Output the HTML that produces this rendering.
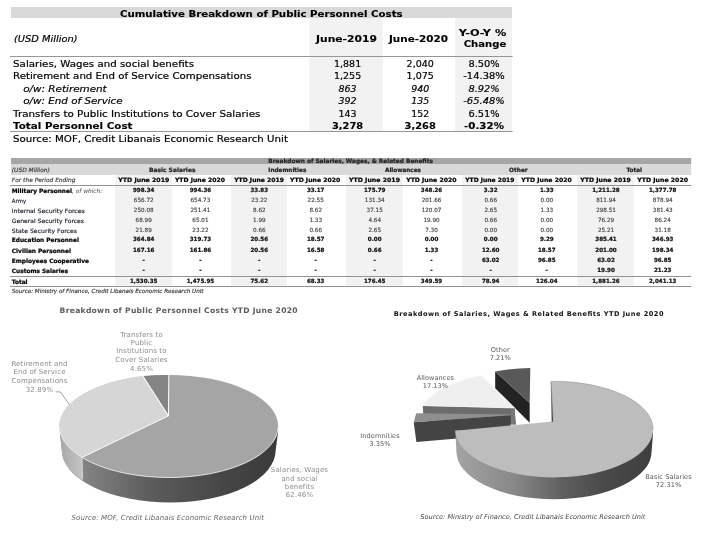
<!DOCTYPE html>
<html lang="en">
<head>
<meta charset="utf-8">
<title>Cumulative Breakdown of Public Personnel Costs</title>
<style>
html,body{margin:0;padding:0;background:#fff;}
body{width:710px;height:534px;overflow:hidden;}
svg{display:block;font-family:"DejaVu Sans", "Liberation Sans", sans-serif;}
text{white-space:pre;}
#t1 text{stroke:#000;stroke-width:0.2px;stroke-linejoin:round;}
#t1 text[font-weight=bold]{stroke-width:0.12px;}
</style>
</head>
<body>
<svg width="710" height="534" viewBox="0 0 710 534">
<rect width="710" height="534" fill="#fff"/>
<g id="t1">
<rect x="11.00" y="7.00" width="501.00" height="11.00" fill="#d9d9d9"/>
<rect x="309.30" y="18.00" width="73.50" height="113.50" fill="#f2f2f2"/>
<rect x="455.10" y="18.00" width="56.90" height="113.50" fill="#f2f2f2"/>
<rect x="10.00" y="56.00" width="502.60" height="1.00" fill="#979797"/>
<rect x="10.00" y="131.00" width="502.60" height="1.00" fill="#979797"/>
<text x="119.90" y="16.90" font-size="9.4" font-weight="bold" textLength="282.70" lengthAdjust="spacingAndGlyphs">Cumulative Breakdown of Public Personnel Costs</text>
<text x="14.00" y="42.10" font-size="9.5" font-style="italic" textLength="63.50" lengthAdjust="spacingAndGlyphs">(USD Million)</text>
<text x="316.00" y="41.90" font-size="9.4" font-weight="bold" textLength="60.90" lengthAdjust="spacingAndGlyphs">June-2019</text>
<text x="389.00" y="41.90" font-size="9.4" font-weight="bold" textLength="59.00" lengthAdjust="spacingAndGlyphs">June-2020</text>
<text x="458.70" y="35.80" font-size="9.4" font-weight="bold" textLength="47.60" lengthAdjust="spacingAndGlyphs">Y-O-Y %</text>
<text x="463.70" y="47.30" font-size="9.4" font-weight="bold" textLength="42.60" lengthAdjust="spacingAndGlyphs">Change</text>
<text x="13.10" y="66.80" font-size="9.4" textLength="180.90" lengthAdjust="spacingAndGlyphs">Salaries, Wages and social benefits</text>
<text x="347.60" y="66.80" font-size="9.4" text-anchor="middle" textLength="27.20" lengthAdjust="spacingAndGlyphs">1,881</text>
<text x="420.20" y="66.80" font-size="9.4" text-anchor="middle" textLength="27.20" lengthAdjust="spacingAndGlyphs">2,040</text>
<text x="484.00" y="66.80" font-size="9.4" text-anchor="middle" textLength="31.20" lengthAdjust="spacingAndGlyphs">8.50%</text>
<text x="13.10" y="78.70" font-size="9.4" textLength="238.40" lengthAdjust="spacingAndGlyphs">Retirement and End of Service Compensations</text>
<text x="347.60" y="78.70" font-size="9.4" text-anchor="middle" textLength="27.20" lengthAdjust="spacingAndGlyphs">1,255</text>
<text x="420.20" y="78.70" font-size="9.4" text-anchor="middle" textLength="27.20" lengthAdjust="spacingAndGlyphs">1,075</text>
<text x="484.00" y="78.70" font-size="9.4" text-anchor="middle" textLength="41.40" lengthAdjust="spacingAndGlyphs">-14.38%</text>
<text x="23.20" y="91.50" font-size="9.4" font-style="italic" textLength="83.50" lengthAdjust="spacingAndGlyphs">o/w: Retirement</text>
<text x="347.60" y="91.50" font-size="9.4" font-style="italic" text-anchor="middle" textLength="18.00" lengthAdjust="spacingAndGlyphs">863</text>
<text x="420.20" y="91.50" font-size="9.4" font-style="italic" text-anchor="middle" textLength="18.00" lengthAdjust="spacingAndGlyphs">940</text>
<text x="484.00" y="91.50" font-size="9.4" font-style="italic" text-anchor="middle" textLength="31.20" lengthAdjust="spacingAndGlyphs">8.92%</text>
<text x="23.20" y="104.00" font-size="9.4" font-style="italic" textLength="99.50" lengthAdjust="spacingAndGlyphs">o/w: End of Service</text>
<text x="347.60" y="104.00" font-size="9.4" font-style="italic" text-anchor="middle" textLength="18.00" lengthAdjust="spacingAndGlyphs">392</text>
<text x="420.20" y="104.00" font-size="9.4" font-style="italic" text-anchor="middle" textLength="18.00" lengthAdjust="spacingAndGlyphs">135</text>
<text x="484.00" y="104.00" font-size="9.4" font-style="italic" text-anchor="middle" textLength="41.40" lengthAdjust="spacingAndGlyphs">-65.48%</text>
<text x="13.10" y="116.60" font-size="9.4" textLength="247.40" lengthAdjust="spacingAndGlyphs">Transfers to Public Institutions to Cover Salaries</text>
<text x="347.60" y="116.60" font-size="9.4" text-anchor="middle" textLength="18.00" lengthAdjust="spacingAndGlyphs">143</text>
<text x="420.20" y="116.60" font-size="9.4" text-anchor="middle" textLength="18.00" lengthAdjust="spacingAndGlyphs">152</text>
<text x="484.00" y="116.60" font-size="9.4" text-anchor="middle" textLength="31.20" lengthAdjust="spacingAndGlyphs">6.51%</text>
<text x="13.10" y="128.80" font-size="9.4" font-weight="bold" textLength="119.40" lengthAdjust="spacingAndGlyphs">Total Personnel Cost</text>
<text x="347.60" y="128.80" font-size="9.4" font-weight="bold" text-anchor="middle" textLength="31.20" lengthAdjust="spacingAndGlyphs">3,278</text>
<text x="420.20" y="128.80" font-size="9.4" font-weight="bold" text-anchor="middle" textLength="31.20" lengthAdjust="spacingAndGlyphs">3,268</text>
<text x="484.00" y="128.80" font-size="9.4" font-weight="bold" text-anchor="middle" textLength="39.90" lengthAdjust="spacingAndGlyphs">-0.32%</text>
<text x="13.10" y="141.70" font-size="9.4" textLength="274.90" lengthAdjust="spacingAndGlyphs">Source: MOF, Credit Libanais Economic Research Unit</text>
</g>
<g id="t2">
<rect x="11.00" y="158.00" width="680.20" height="6.00" fill="#a6a6a6"/>
<rect x="11.00" y="164.00" width="680.20" height="11.00" fill="#d9d9d9"/>
<rect x="115.20" y="175.00" width="56.60" height="111.50" fill="#f2f2f2"/>
<rect x="231.10" y="175.00" width="55.80" height="111.50" fill="#f2f2f2"/>
<rect x="345.90" y="175.00" width="56.90" height="111.50" fill="#f2f2f2"/>
<rect x="462.10" y="175.00" width="55.80" height="111.50" fill="#f2f2f2"/>
<rect x="577.20" y="175.00" width="56.50" height="111.50" fill="#f2f2f2"/>
<rect x="10.00" y="185.00" width="681.20" height="1.00" fill="#939393"/>
<rect x="10.00" y="276.00" width="681.20" height="1.00" fill="#939393"/>
<rect x="10.00" y="286.00" width="681.20" height="1.00" fill="#939393"/>
<text x="268.30" y="162.70" font-size="5.9" font-weight="bold" fill="#222" textLength="164.60" lengthAdjust="spacingAndGlyphs" stroke="#222" stroke-width="0.22">Breakdown of Salaries, Wages, &amp; Related Benefits</text>
<text x="11.80" y="172.00" font-size="5.9" font-style="italic" fill="#333" textLength="38.10" lengthAdjust="spacingAndGlyphs" stroke="#333" stroke-width="0.14">(USD Million)</text>
<text x="148.95" y="172.00" font-size="5.9" font-weight="bold" fill="#222" textLength="46.50" lengthAdjust="spacingAndGlyphs" stroke="#222" stroke-width="0.22">Basic Salaries</text>
<text x="268.30" y="172.00" font-size="5.9" font-weight="bold" fill="#222" textLength="38.00" lengthAdjust="spacingAndGlyphs" stroke="#222" stroke-width="0.22">Indemnities</text>
<text x="385.00" y="172.00" font-size="5.9" font-weight="bold" fill="#222" textLength="36.00" lengthAdjust="spacingAndGlyphs" stroke="#222" stroke-width="0.22">Allowances</text>
<text x="509.10" y="172.00" font-size="5.9" font-weight="bold" fill="#222" textLength="18.60" lengthAdjust="spacingAndGlyphs" stroke="#222" stroke-width="0.22">Other</text>
<text x="626.50" y="172.00" font-size="5.9" font-weight="bold" fill="#222" textLength="15.40" lengthAdjust="spacingAndGlyphs" stroke="#222" stroke-width="0.22">Total</text>
<text x="11.80" y="181.80" font-size="5.9" font-style="italic" fill="#333" textLength="63.70" lengthAdjust="spacingAndGlyphs" stroke="#333" stroke-width="0.14">For the Period Ending</text>
<text x="118.30" y="181.80" font-size="5.9" font-weight="bold" textLength="51.00" lengthAdjust="spacingAndGlyphs" stroke="#000" stroke-width="0.22">YTD June 2019</text>
<text x="174.90" y="181.80" font-size="5.9" font-weight="bold" textLength="50.00" lengthAdjust="spacingAndGlyphs" stroke="#000" stroke-width="0.22">YTD June 2020</text>
<text x="234.20" y="181.80" font-size="5.9" font-weight="bold" textLength="49.70" lengthAdjust="spacingAndGlyphs" stroke="#000" stroke-width="0.22">YTD June 2019</text>
<text x="290.00" y="181.80" font-size="5.9" font-weight="bold" textLength="50.30" lengthAdjust="spacingAndGlyphs" stroke="#000" stroke-width="0.22">YTD June 2020</text>
<text x="349.00" y="181.80" font-size="5.9" font-weight="bold" textLength="51.00" lengthAdjust="spacingAndGlyphs" stroke="#000" stroke-width="0.22">YTD June 2019</text>
<text x="406.20" y="181.80" font-size="5.9" font-weight="bold" textLength="50.30" lengthAdjust="spacingAndGlyphs" stroke="#000" stroke-width="0.22">YTD June 2020</text>
<text x="465.20" y="181.80" font-size="5.9" font-weight="bold" textLength="49.30" lengthAdjust="spacingAndGlyphs" stroke="#000" stroke-width="0.22">YTD June 2019</text>
<text x="521.30" y="181.80" font-size="5.9" font-weight="bold" textLength="50.50" lengthAdjust="spacingAndGlyphs" stroke="#000" stroke-width="0.22">YTD June 2020</text>
<text x="580.20" y="181.80" font-size="5.9" font-weight="bold" textLength="50.70" lengthAdjust="spacingAndGlyphs" stroke="#000" stroke-width="0.22">YTD June 2019</text>
<text x="637.30" y="181.80" font-size="5.9" font-weight="bold" textLength="50.70" lengthAdjust="spacingAndGlyphs" stroke="#000" stroke-width="0.22">YTD June 2020</text>
<text x="11.8" y="192.8" font-size="5.9" textLength="90.4" lengthAdjust="spacingAndGlyphs"><tspan font-weight="bold" stroke="#000" stroke-width="0.22">Military Personnel</tspan><tspan font-style="italic" fill="#444">, of which:</tspan></text>
<text x="143.70" y="192.20" font-size="5.7" font-weight="bold" fill="#111" text-anchor="middle" textLength="21.50" lengthAdjust="spacingAndGlyphs" stroke="#111" stroke-width="0.22">998.34</text>
<text x="200.40" y="192.20" font-size="5.7" font-weight="bold" fill="#111" text-anchor="middle" textLength="21.50" lengthAdjust="spacingAndGlyphs" stroke="#111" stroke-width="0.22">994.36</text>
<text x="259.30" y="192.20" font-size="5.7" font-weight="bold" fill="#111" text-anchor="middle" textLength="17.62" lengthAdjust="spacingAndGlyphs" stroke="#111" stroke-width="0.22">33.83</text>
<text x="315.70" y="192.20" font-size="5.7" font-weight="bold" fill="#111" text-anchor="middle" textLength="17.62" lengthAdjust="spacingAndGlyphs" stroke="#111" stroke-width="0.22">33.17</text>
<text x="374.70" y="192.20" font-size="5.7" font-weight="bold" fill="#111" text-anchor="middle" textLength="21.50" lengthAdjust="spacingAndGlyphs" stroke="#111" stroke-width="0.22">175.79</text>
<text x="431.50" y="192.20" font-size="5.7" font-weight="bold" fill="#111" text-anchor="middle" textLength="21.50" lengthAdjust="spacingAndGlyphs" stroke="#111" stroke-width="0.22">348.26</text>
<text x="490.70" y="192.20" font-size="5.7" font-weight="bold" fill="#111" text-anchor="middle" textLength="13.74" lengthAdjust="spacingAndGlyphs" stroke="#111" stroke-width="0.22">3.32</text>
<text x="546.80" y="192.20" font-size="5.7" font-weight="bold" fill="#111" text-anchor="middle" textLength="13.74" lengthAdjust="spacingAndGlyphs" stroke="#111" stroke-width="0.22">1.33</text>
<text x="606.00" y="192.20" font-size="5.7" font-weight="bold" fill="#111" text-anchor="middle" textLength="27.48" lengthAdjust="spacingAndGlyphs" stroke="#111" stroke-width="0.22">1,211.28</text>
<text x="662.70" y="192.20" font-size="5.7" font-weight="bold" fill="#111" text-anchor="middle" textLength="27.48" lengthAdjust="spacingAndGlyphs" stroke="#111" stroke-width="0.22">1,377.78</text>
<text x="11.80" y="202.70" font-size="5.9" fill="#20202c" textLength="14.40" lengthAdjust="spacingAndGlyphs" stroke="#20202c" stroke-width="0.14">Army</text>
<text x="143.70" y="202.10" font-size="5.7" fill="#3c3c44" text-anchor="middle" textLength="19.75" lengthAdjust="spacingAndGlyphs" stroke="#3c3c44" stroke-width="0.14">656.72</text>
<text x="200.40" y="202.10" font-size="5.7" fill="#3c3c44" text-anchor="middle" textLength="19.75" lengthAdjust="spacingAndGlyphs" stroke="#3c3c44" stroke-width="0.14">654.73</text>
<text x="259.30" y="202.10" font-size="5.7" fill="#3c3c44" text-anchor="middle" textLength="16.20" lengthAdjust="spacingAndGlyphs" stroke="#3c3c44" stroke-width="0.14">23.22</text>
<text x="315.70" y="202.10" font-size="5.7" fill="#3c3c44" text-anchor="middle" textLength="16.20" lengthAdjust="spacingAndGlyphs" stroke="#3c3c44" stroke-width="0.14">22.55</text>
<text x="374.70" y="202.10" font-size="5.7" fill="#3c3c44" text-anchor="middle" textLength="19.75" lengthAdjust="spacingAndGlyphs" stroke="#3c3c44" stroke-width="0.14">131.34</text>
<text x="431.50" y="202.10" font-size="5.7" fill="#3c3c44" text-anchor="middle" textLength="19.75" lengthAdjust="spacingAndGlyphs" stroke="#3c3c44" stroke-width="0.14">201.66</text>
<text x="490.70" y="202.10" font-size="5.7" fill="#3c3c44" text-anchor="middle" textLength="12.65" lengthAdjust="spacingAndGlyphs" stroke="#3c3c44" stroke-width="0.14">0.66</text>
<text x="546.80" y="202.10" font-size="5.7" fill="#3c3c44" text-anchor="middle" textLength="12.65" lengthAdjust="spacingAndGlyphs" stroke="#3c3c44" stroke-width="0.14">0.00</text>
<text x="606.00" y="202.10" font-size="5.7" fill="#3c3c44" text-anchor="middle" textLength="19.75" lengthAdjust="spacingAndGlyphs" stroke="#3c3c44" stroke-width="0.14">811.94</text>
<text x="662.70" y="202.10" font-size="5.7" fill="#3c3c44" text-anchor="middle" textLength="19.75" lengthAdjust="spacingAndGlyphs" stroke="#3c3c44" stroke-width="0.14">878.94</text>
<text x="11.80" y="212.60" font-size="5.9" fill="#20202c" textLength="73.00" lengthAdjust="spacingAndGlyphs" stroke="#20202c" stroke-width="0.14">Internal Security Forces</text>
<text x="143.70" y="212.00" font-size="5.7" fill="#3c3c44" text-anchor="middle" textLength="19.75" lengthAdjust="spacingAndGlyphs" stroke="#3c3c44" stroke-width="0.14">250.08</text>
<text x="200.40" y="212.00" font-size="5.7" fill="#3c3c44" text-anchor="middle" textLength="19.75" lengthAdjust="spacingAndGlyphs" stroke="#3c3c44" stroke-width="0.14">251.41</text>
<text x="259.30" y="212.00" font-size="5.7" fill="#3c3c44" text-anchor="middle" textLength="12.65" lengthAdjust="spacingAndGlyphs" stroke="#3c3c44" stroke-width="0.14">8.62</text>
<text x="315.70" y="212.00" font-size="5.7" fill="#3c3c44" text-anchor="middle" textLength="12.65" lengthAdjust="spacingAndGlyphs" stroke="#3c3c44" stroke-width="0.14">8.62</text>
<text x="374.70" y="212.00" font-size="5.7" fill="#3c3c44" text-anchor="middle" textLength="16.20" lengthAdjust="spacingAndGlyphs" stroke="#3c3c44" stroke-width="0.14">37.15</text>
<text x="431.50" y="212.00" font-size="5.7" fill="#3c3c44" text-anchor="middle" textLength="19.75" lengthAdjust="spacingAndGlyphs" stroke="#3c3c44" stroke-width="0.14">120.07</text>
<text x="490.70" y="212.00" font-size="5.7" fill="#3c3c44" text-anchor="middle" textLength="12.65" lengthAdjust="spacingAndGlyphs" stroke="#3c3c44" stroke-width="0.14">2.65</text>
<text x="546.80" y="212.00" font-size="5.7" fill="#3c3c44" text-anchor="middle" textLength="12.65" lengthAdjust="spacingAndGlyphs" stroke="#3c3c44" stroke-width="0.14">1.33</text>
<text x="606.00" y="212.00" font-size="5.7" fill="#3c3c44" text-anchor="middle" textLength="19.75" lengthAdjust="spacingAndGlyphs" stroke="#3c3c44" stroke-width="0.14">298.51</text>
<text x="662.70" y="212.00" font-size="5.7" fill="#3c3c44" text-anchor="middle" textLength="19.75" lengthAdjust="spacingAndGlyphs" stroke="#3c3c44" stroke-width="0.14">381.43</text>
<text x="11.80" y="222.70" font-size="5.9" fill="#20202c" textLength="72.20" lengthAdjust="spacingAndGlyphs" stroke="#20202c" stroke-width="0.14">General Security Forces</text>
<text x="143.70" y="222.10" font-size="5.7" fill="#3c3c44" text-anchor="middle" textLength="16.20" lengthAdjust="spacingAndGlyphs" stroke="#3c3c44" stroke-width="0.14">68.99</text>
<text x="200.40" y="222.10" font-size="5.7" fill="#3c3c44" text-anchor="middle" textLength="16.20" lengthAdjust="spacingAndGlyphs" stroke="#3c3c44" stroke-width="0.14">65.01</text>
<text x="259.30" y="222.10" font-size="5.7" fill="#3c3c44" text-anchor="middle" textLength="12.65" lengthAdjust="spacingAndGlyphs" stroke="#3c3c44" stroke-width="0.14">1.99</text>
<text x="315.70" y="222.10" font-size="5.7" fill="#3c3c44" text-anchor="middle" textLength="12.65" lengthAdjust="spacingAndGlyphs" stroke="#3c3c44" stroke-width="0.14">1.33</text>
<text x="374.70" y="222.10" font-size="5.7" fill="#3c3c44" text-anchor="middle" textLength="12.65" lengthAdjust="spacingAndGlyphs" stroke="#3c3c44" stroke-width="0.14">4.64</text>
<text x="431.50" y="222.10" font-size="5.7" fill="#3c3c44" text-anchor="middle" textLength="16.20" lengthAdjust="spacingAndGlyphs" stroke="#3c3c44" stroke-width="0.14">19.90</text>
<text x="490.70" y="222.10" font-size="5.7" fill="#3c3c44" text-anchor="middle" textLength="12.65" lengthAdjust="spacingAndGlyphs" stroke="#3c3c44" stroke-width="0.14">0.66</text>
<text x="546.80" y="222.10" font-size="5.7" fill="#3c3c44" text-anchor="middle" textLength="12.65" lengthAdjust="spacingAndGlyphs" stroke="#3c3c44" stroke-width="0.14">0.00</text>
<text x="606.00" y="222.10" font-size="5.7" fill="#3c3c44" text-anchor="middle" textLength="16.20" lengthAdjust="spacingAndGlyphs" stroke="#3c3c44" stroke-width="0.14">76.29</text>
<text x="662.70" y="222.10" font-size="5.7" fill="#3c3c44" text-anchor="middle" textLength="16.20" lengthAdjust="spacingAndGlyphs" stroke="#3c3c44" stroke-width="0.14">86.24</text>
<text x="11.80" y="232.70" font-size="5.9" fill="#20202c" textLength="65.10" lengthAdjust="spacingAndGlyphs" stroke="#20202c" stroke-width="0.14">State Security Forces</text>
<text x="143.70" y="232.10" font-size="5.7" fill="#3c3c44" text-anchor="middle" textLength="16.20" lengthAdjust="spacingAndGlyphs" stroke="#3c3c44" stroke-width="0.14">21.89</text>
<text x="200.40" y="232.10" font-size="5.7" fill="#3c3c44" text-anchor="middle" textLength="16.20" lengthAdjust="spacingAndGlyphs" stroke="#3c3c44" stroke-width="0.14">23.22</text>
<text x="259.30" y="232.10" font-size="5.7" fill="#3c3c44" text-anchor="middle" textLength="12.65" lengthAdjust="spacingAndGlyphs" stroke="#3c3c44" stroke-width="0.14">0.66</text>
<text x="315.70" y="232.10" font-size="5.7" fill="#3c3c44" text-anchor="middle" textLength="12.65" lengthAdjust="spacingAndGlyphs" stroke="#3c3c44" stroke-width="0.14">0.66</text>
<text x="374.70" y="232.10" font-size="5.7" fill="#3c3c44" text-anchor="middle" textLength="12.65" lengthAdjust="spacingAndGlyphs" stroke="#3c3c44" stroke-width="0.14">2.65</text>
<text x="431.50" y="232.10" font-size="5.7" fill="#3c3c44" text-anchor="middle" textLength="12.65" lengthAdjust="spacingAndGlyphs" stroke="#3c3c44" stroke-width="0.14">7.30</text>
<text x="490.70" y="232.10" font-size="5.7" fill="#3c3c44" text-anchor="middle" textLength="12.65" lengthAdjust="spacingAndGlyphs" stroke="#3c3c44" stroke-width="0.14">0.00</text>
<text x="546.80" y="232.10" font-size="5.7" fill="#3c3c44" text-anchor="middle" textLength="12.65" lengthAdjust="spacingAndGlyphs" stroke="#3c3c44" stroke-width="0.14">0.00</text>
<text x="606.00" y="232.10" font-size="5.7" fill="#3c3c44" text-anchor="middle" textLength="16.20" lengthAdjust="spacingAndGlyphs" stroke="#3c3c44" stroke-width="0.14">25.21</text>
<text x="662.70" y="232.10" font-size="5.7" fill="#3c3c44" text-anchor="middle" textLength="16.20" lengthAdjust="spacingAndGlyphs" stroke="#3c3c44" stroke-width="0.14">31.18</text>
<text x="11.80" y="242.00" font-size="5.9" font-weight="bold" textLength="67.10" lengthAdjust="spacingAndGlyphs" stroke="#000" stroke-width="0.22">Education Personnel</text>
<text x="143.70" y="241.40" font-size="5.7" font-weight="bold" fill="#111" text-anchor="middle" textLength="21.50" lengthAdjust="spacingAndGlyphs" stroke="#111" stroke-width="0.22">364.84</text>
<text x="200.40" y="241.40" font-size="5.7" font-weight="bold" fill="#111" text-anchor="middle" textLength="21.50" lengthAdjust="spacingAndGlyphs" stroke="#111" stroke-width="0.22">319.73</text>
<text x="259.30" y="241.40" font-size="5.7" font-weight="bold" fill="#111" text-anchor="middle" textLength="17.62" lengthAdjust="spacingAndGlyphs" stroke="#111" stroke-width="0.22">20.56</text>
<text x="315.70" y="241.40" font-size="5.7" font-weight="bold" fill="#111" text-anchor="middle" textLength="17.62" lengthAdjust="spacingAndGlyphs" stroke="#111" stroke-width="0.22">18.57</text>
<text x="374.70" y="241.40" font-size="5.7" font-weight="bold" fill="#111" text-anchor="middle" textLength="13.74" lengthAdjust="spacingAndGlyphs" stroke="#111" stroke-width="0.22">0.00</text>
<text x="431.50" y="241.40" font-size="5.7" font-weight="bold" fill="#111" text-anchor="middle" textLength="13.74" lengthAdjust="spacingAndGlyphs" stroke="#111" stroke-width="0.22">0.00</text>
<text x="490.70" y="241.40" font-size="5.7" font-weight="bold" fill="#111" text-anchor="middle" textLength="13.74" lengthAdjust="spacingAndGlyphs" stroke="#111" stroke-width="0.22">0.00</text>
<text x="546.80" y="241.40" font-size="5.7" font-weight="bold" fill="#111" text-anchor="middle" textLength="13.74" lengthAdjust="spacingAndGlyphs" stroke="#111" stroke-width="0.22">9.29</text>
<text x="606.00" y="241.40" font-size="5.7" font-weight="bold" fill="#111" text-anchor="middle" textLength="21.50" lengthAdjust="spacingAndGlyphs" stroke="#111" stroke-width="0.22">385.41</text>
<text x="662.70" y="241.40" font-size="5.7" font-weight="bold" fill="#111" text-anchor="middle" textLength="21.50" lengthAdjust="spacingAndGlyphs" stroke="#111" stroke-width="0.22">346.93</text>
<text x="11.80" y="252.60" font-size="5.9" font-weight="bold" textLength="59.20" lengthAdjust="spacingAndGlyphs" stroke="#000" stroke-width="0.22">Civilian Personnel</text>
<text x="143.70" y="252.00" font-size="5.7" font-weight="bold" fill="#111" text-anchor="middle" textLength="21.50" lengthAdjust="spacingAndGlyphs" stroke="#111" stroke-width="0.22">167.16</text>
<text x="200.40" y="252.00" font-size="5.7" font-weight="bold" fill="#111" text-anchor="middle" textLength="21.50" lengthAdjust="spacingAndGlyphs" stroke="#111" stroke-width="0.22">161.86</text>
<text x="259.30" y="252.00" font-size="5.7" font-weight="bold" fill="#111" text-anchor="middle" textLength="17.62" lengthAdjust="spacingAndGlyphs" stroke="#111" stroke-width="0.22">20.56</text>
<text x="315.70" y="252.00" font-size="5.7" font-weight="bold" fill="#111" text-anchor="middle" textLength="17.62" lengthAdjust="spacingAndGlyphs" stroke="#111" stroke-width="0.22">16.58</text>
<text x="374.70" y="252.00" font-size="5.7" font-weight="bold" fill="#111" text-anchor="middle" textLength="13.74" lengthAdjust="spacingAndGlyphs" stroke="#111" stroke-width="0.22">0.66</text>
<text x="431.50" y="252.00" font-size="5.7" font-weight="bold" fill="#111" text-anchor="middle" textLength="13.74" lengthAdjust="spacingAndGlyphs" stroke="#111" stroke-width="0.22">1.33</text>
<text x="490.70" y="252.00" font-size="5.7" font-weight="bold" fill="#111" text-anchor="middle" textLength="17.62" lengthAdjust="spacingAndGlyphs" stroke="#111" stroke-width="0.22">12.60</text>
<text x="546.80" y="252.00" font-size="5.7" font-weight="bold" fill="#111" text-anchor="middle" textLength="17.62" lengthAdjust="spacingAndGlyphs" stroke="#111" stroke-width="0.22">18.57</text>
<text x="606.00" y="252.00" font-size="5.7" font-weight="bold" fill="#111" text-anchor="middle" textLength="21.50" lengthAdjust="spacingAndGlyphs" stroke="#111" stroke-width="0.22">201.00</text>
<text x="662.70" y="252.00" font-size="5.7" font-weight="bold" fill="#111" text-anchor="middle" textLength="21.50" lengthAdjust="spacingAndGlyphs" stroke="#111" stroke-width="0.22">198.34</text>
<text x="11.80" y="262.60" font-size="5.9" font-weight="bold" textLength="77.20" lengthAdjust="spacingAndGlyphs" stroke="#000" stroke-width="0.22">Employees Cooperative</text>
<text x="143.70" y="262.30" font-size="5.7" font-weight="bold" fill="#111" text-anchor="middle" stroke="#111" stroke-width="0.22">-</text>
<text x="200.40" y="262.30" font-size="5.7" font-weight="bold" fill="#111" text-anchor="middle" stroke="#111" stroke-width="0.22">-</text>
<text x="259.30" y="262.30" font-size="5.7" font-weight="bold" fill="#111" text-anchor="middle" stroke="#111" stroke-width="0.22">-</text>
<text x="315.70" y="262.30" font-size="5.7" font-weight="bold" fill="#111" text-anchor="middle" stroke="#111" stroke-width="0.22">-</text>
<text x="374.70" y="262.30" font-size="5.7" font-weight="bold" fill="#111" text-anchor="middle" stroke="#111" stroke-width="0.22">-</text>
<text x="431.50" y="262.30" font-size="5.7" font-weight="bold" fill="#111" text-anchor="middle" stroke="#111" stroke-width="0.22">-</text>
<text x="490.70" y="262.00" font-size="5.7" font-weight="bold" fill="#111" text-anchor="middle" textLength="17.62" lengthAdjust="spacingAndGlyphs" stroke="#111" stroke-width="0.22">63.02</text>
<text x="546.80" y="262.00" font-size="5.7" font-weight="bold" fill="#111" text-anchor="middle" textLength="17.62" lengthAdjust="spacingAndGlyphs" stroke="#111" stroke-width="0.22">96.85</text>
<text x="606.00" y="262.00" font-size="5.7" font-weight="bold" fill="#111" text-anchor="middle" textLength="17.62" lengthAdjust="spacingAndGlyphs" stroke="#111" stroke-width="0.22">63.02</text>
<text x="662.70" y="262.00" font-size="5.7" font-weight="bold" fill="#111" text-anchor="middle" textLength="17.62" lengthAdjust="spacingAndGlyphs" stroke="#111" stroke-width="0.22">96.85</text>
<text x="11.80" y="272.70" font-size="5.9" font-weight="bold" textLength="56.30" lengthAdjust="spacingAndGlyphs" stroke="#000" stroke-width="0.22">Customs Salaries</text>
<text x="143.70" y="272.40" font-size="5.7" font-weight="bold" fill="#111" text-anchor="middle" stroke="#111" stroke-width="0.22">-</text>
<text x="200.40" y="272.40" font-size="5.7" font-weight="bold" fill="#111" text-anchor="middle" stroke="#111" stroke-width="0.22">-</text>
<text x="259.30" y="272.40" font-size="5.7" font-weight="bold" fill="#111" text-anchor="middle" stroke="#111" stroke-width="0.22">-</text>
<text x="315.70" y="272.40" font-size="5.7" font-weight="bold" fill="#111" text-anchor="middle" stroke="#111" stroke-width="0.22">-</text>
<text x="374.70" y="272.40" font-size="5.7" font-weight="bold" fill="#111" text-anchor="middle" stroke="#111" stroke-width="0.22">-</text>
<text x="431.50" y="272.40" font-size="5.7" font-weight="bold" fill="#111" text-anchor="middle" stroke="#111" stroke-width="0.22">-</text>
<text x="490.70" y="272.40" font-size="5.7" font-weight="bold" fill="#111" text-anchor="middle" stroke="#111" stroke-width="0.22">-</text>
<text x="546.80" y="272.40" font-size="5.7" font-weight="bold" fill="#111" text-anchor="middle" stroke="#111" stroke-width="0.22">-</text>
<text x="606.00" y="272.10" font-size="5.7" font-weight="bold" fill="#111" text-anchor="middle" textLength="17.62" lengthAdjust="spacingAndGlyphs" stroke="#111" stroke-width="0.22">19.90</text>
<text x="662.70" y="272.10" font-size="5.7" font-weight="bold" fill="#111" text-anchor="middle" textLength="17.62" lengthAdjust="spacingAndGlyphs" stroke="#111" stroke-width="0.22">21.23</text>
<text x="11.80" y="283.70" font-size="5.9" font-weight="bold" textLength="15.70" lengthAdjust="spacingAndGlyphs" stroke="#000" stroke-width="0.22">Total</text>
<text x="143.70" y="283.10" font-size="5.7" font-weight="bold" fill="#111" text-anchor="middle" textLength="27.48" lengthAdjust="spacingAndGlyphs" stroke="#111" stroke-width="0.22">1,530.35</text>
<text x="200.40" y="283.10" font-size="5.7" font-weight="bold" fill="#111" text-anchor="middle" textLength="27.48" lengthAdjust="spacingAndGlyphs" stroke="#111" stroke-width="0.22">1,475.95</text>
<text x="259.30" y="283.10" font-size="5.7" font-weight="bold" fill="#111" text-anchor="middle" textLength="17.62" lengthAdjust="spacingAndGlyphs" stroke="#111" stroke-width="0.22">75.62</text>
<text x="315.70" y="283.10" font-size="5.7" font-weight="bold" fill="#111" text-anchor="middle" textLength="17.62" lengthAdjust="spacingAndGlyphs" stroke="#111" stroke-width="0.22">68.33</text>
<text x="374.70" y="283.10" font-size="5.7" font-weight="bold" fill="#111" text-anchor="middle" textLength="21.50" lengthAdjust="spacingAndGlyphs" stroke="#111" stroke-width="0.22">176.45</text>
<text x="431.50" y="283.10" font-size="5.7" font-weight="bold" fill="#111" text-anchor="middle" textLength="21.50" lengthAdjust="spacingAndGlyphs" stroke="#111" stroke-width="0.22">349.59</text>
<text x="490.70" y="283.10" font-size="5.7" font-weight="bold" fill="#111" text-anchor="middle" textLength="17.62" lengthAdjust="spacingAndGlyphs" stroke="#111" stroke-width="0.22">78.94</text>
<text x="546.80" y="283.10" font-size="5.7" font-weight="bold" fill="#111" text-anchor="middle" textLength="21.50" lengthAdjust="spacingAndGlyphs" stroke="#111" stroke-width="0.22">126.04</text>
<text x="606.00" y="283.10" font-size="5.7" font-weight="bold" fill="#111" text-anchor="middle" textLength="27.48" lengthAdjust="spacingAndGlyphs" stroke="#111" stroke-width="0.22">1,881.26</text>
<text x="662.70" y="283.10" font-size="5.7" font-weight="bold" fill="#111" text-anchor="middle" textLength="27.48" lengthAdjust="spacingAndGlyphs" stroke="#111" stroke-width="0.22">2,041.13</text>
<text x="11.80" y="292.70" font-size="5.6" font-style="italic" fill="#333" textLength="191.70" lengthAdjust="spacingAndGlyphs" stroke="#333" stroke-width="0.14">Source: Ministry of Finance, Credit Libanais Economic Research Unit</text>
</g>
<defs><linearGradient id="gs1" gradientUnits="userSpaceOnUse" x1="82" y1="0" x2="278" y2="0"><stop offset="0" stop-color="#858585"/><stop offset="0.35" stop-color="#5c5c5c"/><stop offset="0.75" stop-color="#454545"/><stop offset="1" stop-color="#3a3a3a"/></linearGradient><linearGradient id="gs1b" gradientUnits="userSpaceOnUse" x1="59" y1="0" x2="83" y2="0"><stop offset="0" stop-color="#a8a8a8"/><stop offset="1" stop-color="#c4c4c4"/></linearGradient><linearGradient id="gs2" gradientUnits="userSpaceOnUse" x1="455" y1="0" x2="653" y2="0"><stop offset="0" stop-color="#a4a4a4"/><stop offset="0.3" stop-color="#888888"/><stop offset="0.55" stop-color="#5e5e5e"/><stop offset="0.75" stop-color="#4a4a4a"/><stop offset="1" stop-color="#3e3e3e"/></linearGradient></defs>
<g id="pie1">
<path d="M59.50,429.20 L61.80,450.00 A108.70,52.6 0 0 0 170.50,502.60 A105.20,52.6 0 0 0 275.70,450.00 L278.20,431.20 Z" fill="url(#gs1)"/>
<clipPath id="cl1"><rect x="50" y="400" width="32.1" height="120"/></clipPath>
<path d="M59.50,429.20 L61.80,450.00 A108.70,52.6 0 0 0 170.50,502.60 A105.20,52.6 0 0 0 275.70,450.00 L278.20,431.20 Z" fill="url(#gs1b)" clip-path="url(#cl1)"/>
<line x1="82.1" y1="457.5" x2="82.6" y2="479.5" stroke="#e6e6e6" stroke-width="0.8"/>
<ellipse cx="168.85" cy="426.2" rx="109.35" ry="51.3" fill="#a5a5a5"/>
<path d="M168.4,415.9 L82.1,457.4 A109.35,51.3 0 0 1 142.9,376.1 Z" fill="#d6d6d6"/>
<path d="M168.4,415.9 L142.9,376.1 A109.35,51.3 0 0 1 168.85,374.90 Z" fill="#848484"/>
<path d="M59.5,426.2 A109.35,51.3 0 0 0 278.2,426.2" fill="none" stroke="#ededed" stroke-width="0.9"/>
<line x1="168.4" y1="415.9" x2="168.85" y2="374.90" stroke="#fcfcfc" stroke-width="1.05"/>
<line x1="168.4" y1="415.9" x2="142.90" y2="376.10" stroke="#fcfcfc" stroke-width="1.05"/>
<line x1="168.4" y1="415.9" x2="82.10" y2="457.40" stroke="#fcfcfc" stroke-width="1.05"/>
<polyline points="55.6,391.9 60.3,391.9 69.5,404.8" fill="none" stroke="#8a8a8a" stroke-width="0.8"/>
<text x="59.60" y="312.70" font-size="7.6" font-weight="bold" fill="#5c5c5c" textLength="238.00" lengthAdjust="spacing">Breakdown of Public Personnel Costs YTD June 2020</text>
<text x="141.50" y="336.80" font-size="7" fill="#8e8e8e" text-anchor="middle" letter-spacing="0.13">Transfers to</text>
<text x="141.50" y="345.00" font-size="7" fill="#8e8e8e" text-anchor="middle" letter-spacing="0.13">Public</text>
<text x="141.50" y="353.30" font-size="7" fill="#8e8e8e" text-anchor="middle" letter-spacing="0.13">Institutions to</text>
<text x="141.50" y="362.40" font-size="7" fill="#8e8e8e" text-anchor="middle" letter-spacing="0.13">Cover Salaries</text>
<text x="141.50" y="370.60" font-size="7" fill="#8e8e8e" text-anchor="middle" letter-spacing="0.13">4.65%</text>
<text x="39.50" y="365.50" font-size="7" fill="#8e8e8e" text-anchor="middle" letter-spacing="0.13">Retirement and</text>
<text x="39.50" y="373.60" font-size="7" fill="#8e8e8e" text-anchor="middle" letter-spacing="0.13">End of Service</text>
<text x="39.50" y="382.90" font-size="7" fill="#8e8e8e" text-anchor="middle" letter-spacing="0.13">Compensations</text>
<text x="39.50" y="391.90" font-size="7" fill="#8e8e8e" text-anchor="middle" letter-spacing="0.13">32.89%</text>
<text x="299.50" y="471.90" font-size="7" fill="#8e8e8e" text-anchor="middle" letter-spacing="0.13">Salaries, Wages</text>
<text x="299.50" y="480.70" font-size="7" fill="#8e8e8e" text-anchor="middle" letter-spacing="0.13">and social</text>
<text x="299.50" y="488.90" font-size="7" fill="#8e8e8e" text-anchor="middle" letter-spacing="0.13">benefits</text>
<text x="299.50" y="497.40" font-size="7" fill="#8e8e8e" text-anchor="middle" letter-spacing="0.13">62.46%</text>
<text x="71.50" y="520.00" font-size="7" font-style="italic" fill="#666" textLength="192.50" lengthAdjust="spacing">Source: MOF, Credit Libanais Economic Research Unit</text>
</g>
<g id="pie2">
<path d="M495.2,388.2 L495.2,371.5 L529.7,403.0 L529.7,422.8 Z" fill="#232323"/>
<path d="M495.2,371.5 A99,47.5 0 0 1 530.3,368.1 L529.7,403.0 Z" fill="#595959"/>
<path d="M422.8,406.0 L514.5,408.0 L515.8,424.5 L423.5,420 Z" fill="#6c6c6c"/>
<path d="M510.8,408.2 L514.5,408.0 L515.8,424.5 L510.8,424.5 Z" fill="#787878"/>
<path d="M422.8,405.4 A99,47.5 0 0 1 481.4,375.6 L514.5,408.0 Z" fill="#efefef" stroke="#f6f6f6" stroke-width="0.6"/>
<path d="M413.7,422.3 L510.7,415.0 L510.7,434 L416.4,442 Z" fill="#444"/>
<path d="M416.2,413.3 L510.7,414.6 L510.7,415.2 L413.8,422.2 Z" fill="#8f8f8f"/>
<path d="M455.30000000000007,430.4 L456.4,451.6 A97.6,47.7 0 0 0 651.6,451.6 L653.1,432.4 Z" fill="url(#gs2)"/>
<path d="M552.8,421.6 L551.3,381.4 A98.9,48.0 0 1 1 455.3,430.7 Z" fill="#bdbdbd"/>
<path d="M551.3,381.4 A98.9,48.0 0 0 1 653.1,429.4" fill="none" stroke="#9c9c9c" stroke-width="0.7"/>
<path d="M551.0999999999999,381.4 L553.0999999999999,421.6 L551.8,421.70000000000005 Z" fill="#454545" stroke="#555" stroke-width="0.3"/>
<text x="393.80" y="315.70" font-size="6.6" font-weight="bold" fill="#111" textLength="269.70" lengthAdjust="spacing">Breakdown of Salaries, Wages &amp; Related Benefits YTD June 2020</text>
<text x="500.30" y="351.50" font-size="6.6" fill="#5a5a5a" text-anchor="middle" letter-spacing="0.05">Other</text>
<text x="500.30" y="359.60" font-size="6.6" fill="#5a5a5a" text-anchor="middle" letter-spacing="0.05">7.21%</text>
<text x="435.40" y="379.80" font-size="6.6" fill="#5a5a5a" text-anchor="middle" letter-spacing="0.05">Allowances</text>
<text x="435.40" y="387.90" font-size="6.6" fill="#5a5a5a" text-anchor="middle" letter-spacing="0.05">17.13%</text>
<text x="380.00" y="437.70" font-size="6.6" fill="#5a5a5a" text-anchor="middle" letter-spacing="0.05">Indemnities</text>
<text x="380.00" y="445.60" font-size="6.6" fill="#5a5a5a" text-anchor="middle" letter-spacing="0.05">3.35%</text>
<text x="668.50" y="479.20" font-size="6.6" fill="#5a5a5a" text-anchor="middle" letter-spacing="0.05">Basic Salaries</text>
<text x="668.50" y="486.50" font-size="6.6" fill="#5a5a5a" text-anchor="middle" letter-spacing="0.05">72.31%</text>
<text x="420.30" y="518.80" font-size="6.6" font-style="italic" fill="#444" textLength="225.10" lengthAdjust="spacing">Source: Ministry of Finance, Credit Libanais Economic Research Unit</text>
</g>
</svg>
</body>
</html>
